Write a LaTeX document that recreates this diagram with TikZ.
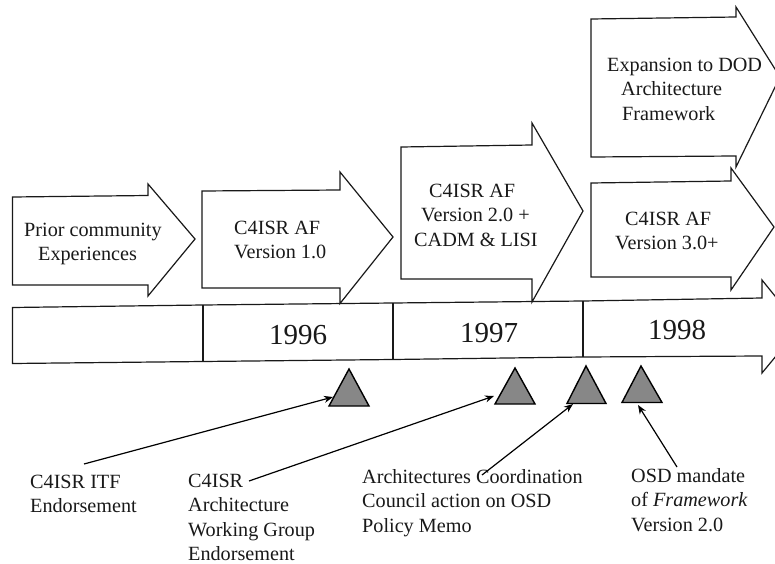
\documentclass[tikz,border=0pt]{standalone}
\usepackage{fontspec}
\setmainfont{Liberation Serif}
\usetikzlibrary{arrows.meta}
\newcommand{\st}{\rule{0pt}{15bp}}
\tikzset{
  block/.style={draw=black!90, line width=1.2bp, fill=white, line join=miter},
  divider/.style={draw=black!90, line width=1.2bp},
  marker/.style={draw=black, line width=1.4bp, fill=black!47, line join=miter},
  pointer/.style={draw=black, line width=1.2bp, -{Stealth[length=9bp,width=7bp]}},
  txt/.style={anchor=north west, inner sep=0pt, align=left, font=\fontsize{20.2bp}{24.5bp}\selectfont, text=black!90},
  yeartxt/.style={anchor=base, inner sep=0pt, font=\fontsize{29bp}{30bp}\selectfont, text=black!90}
}
\begin{document}
\begin{tikzpicture}[x=1bp,y=-1bp]
\useasboundingbox (0,0) rectangle (775,564);
\fill[white] (0,0) rectangle (775,564);
% time line
\draw[block] (12.5,307.5) -- (203,305) -- (393,303) -- (583,301) -- (762,298) -- (762,280) -- (800,327) -- (762,373) -- (762,356) -- (583,357) -- (393,359.5) -- (203,361.5) -- (12.5,363.5) -- cycle;
\coordinate (d1t) at (203,305); \coordinate (d1b) at (203,361.5);
\coordinate (d2t) at (393,303); \coordinate (d2b) at (393,359.5);
\coordinate (d3t) at (583,301); \coordinate (d3b) at (583,357);
\draw[divider] (d1t) -- (d1b);
\draw[divider] (d2t) -- (d2b);
\draw[divider] (d3t) -- (d3b);
% block arrows
\draw[block] (12.5,197) -- (148,195.5) -- (148,184) -- (195,239) -- (148,296) -- (148,285) -- (12.5,285) -- cycle;
\draw[block] (202,191) -- (340,190) -- (340,172) -- (393,237) -- (340,303.5) -- (340,288) -- (202,288) -- cycle;
\draw[block] (401,147) -- (532,145) -- (532,123) -- (583,211) -- (532,302) -- (532,279) -- (401,279) -- cycle;
\draw[block] (591,19) -- (736,17) -- (736,7) -- (780,77) -- (736,167) -- (736,156) -- (591,157) -- cycle;
\draw[block] (591,183) -- (731,181) -- (731,168) -- (774,227) -- (731,290) -- (731,277) -- (591,277) -- cycle;
% texts in arrows
\node[txt] (prior) at (24,221) {\st Prior community\\\hspace*{14bp}Experiences};
\node[txt] (afa) at (234,219) {\st C4ISR AF\\Version 1.0};
\node[txt] (afb) at (414,182) {\st\hspace*{15bp}C4ISR AF\\\hspace*{7bp}Version 2.0 +\\CADM \& LISI};
\node[txt] (dod) at (607,56) {\st Expansion to DOD\\\hspace*{14bp}Architecture\\\hspace*{15bp}Framework};
\node[txt] (afc) at (615,210) {\st\hspace*{10bp}C4ISR AF\\Version 3.0+};
% years
\node[yeartxt] (y96) at (298,344) {1996};
\node[yeartxt] (y97) at (489,342) {1997};
\node[yeartxt] (y98) at (677,339) {1998};
% markers
\draw[marker] (349,369) -- (369,406) -- (329,406) -- cycle;
\draw[marker] (515,368) -- (535,404) -- (495,404) -- cycle;
\draw[marker] (586,366) -- (606,403.5) -- (567,403.5) -- cycle;
\draw[marker] (641,366) -- (662,402.5) -- (622,402.5) -- cycle;
\coordinate (m1) at (333,397);
\coordinate (m2) at (494,396);
\coordinate (m3) at (573,404);
\coordinate (m4) at (638,405);
% labels
\node[txt] (l1) at (30,473) {\st C4ISR ITF\\Endorsement};
\node[txt] (l2) at (188,472) {\st C4ISR\\Architecture\\Working Group\\Endorsement};
\node[txt] (l3) at (362,468) {\st Architectures Coordination\\Council action on OSD\\Policy Memo};
\node[txt] (l4) at (631,467) {\st OSD mandate\\of \textit{Framework}\\Version 2.0};
\coordinate (s1) at (84,464);
\coordinate (s2) at (249,481);
\coordinate (s3) at (482,475);
\coordinate (s4) at (677,467);
\draw[pointer] (s1) -- (m1);
\draw[pointer] (s2) -- (m2);
\draw[pointer] (s3) -- (m3);
\draw[pointer] (s4) -- (m4);
\end{tikzpicture}
\end{document}
